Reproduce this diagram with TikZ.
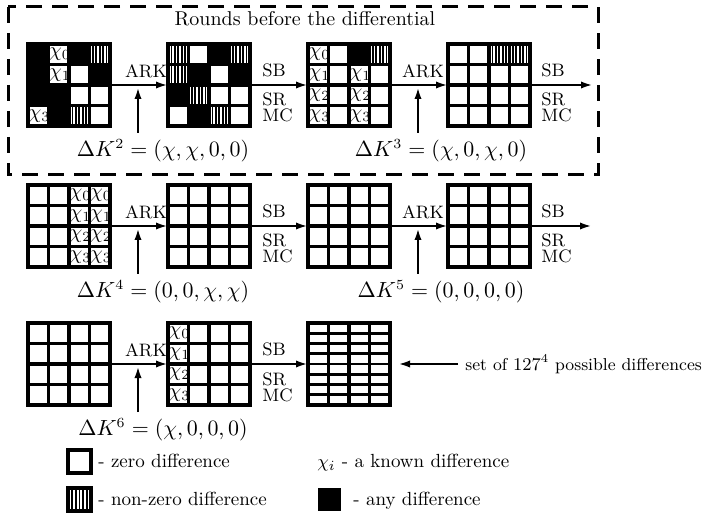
\documentclass[tikz,border=0pt]{standalone}
\usetikzlibrary{arrows.meta,calc}
\newcommand\blk[3]{\fill ($(#1.north west)+(20.5*#3,20.5*#2)$) rectangle ++(20.5,20.5);}
\newcommand\stp[3]{\foreach \i in {1,...,5}{\draw[line width=0.85pt] ($(#1.north west)+(20.5*#3+3.42*\i,20.5*#2)$) -- ++(0,20.5);}}
\newcommand\chic[4]{\begin{scope}\clip ($(#1.north west)+(20.5*#3,20.5*#2)$) rectangle ++(20.5,20.5);
\node[anchor=west,inner sep=0pt] (#1c#2#3) at ($(#1.north west)+(20.5*#3+0.5,20.5*#2+10.5)$) {$\chi_{#4}$};\end{scope}}
\newcommand\gridlines[1]{%
  \foreach \k in {1,2,3}{%
    \draw[gl] ($(#1.north west)+(20.5*\k,0)$) -- ++(0,82);
    \draw[gl] ($(#1.north west)+(0,20.5*\k)$) -- ++(82,0);}
  \draw[gl] (#1.north west) rectangle (#1.south east);}
\begin{document}
\begin{tikzpicture}[x=0.5pt,y=-0.5pt,
  gridbox/.style={minimum width=41pt, minimum height=41pt, inner sep=0pt, outer sep=0pt},
  gl/.style={line width=1.7pt, line cap=rect},
  arr/.style={line width=1.4pt, -{Latex[length=6pt,width=3.6pt]}},
  opl/.style={font=\fontsize{9}{10}\selectfont, inner sep=0pt},
  dkl/.style={font=\fontsize{10.5}{12}\selectfont, inner sep=0pt},
  lgt/.style={font=\fontsize{9.5}{11}\selectfont, inner sep=0pt, anchor=base west},
  lsq/.style={minimum size=11.5pt, inner sep=0pt, outer sep=0pt, anchor=north west}]
\useasboundingbox (0,0) rectangle (712,518);
% dashed frame
\draw[line width=1.5pt, dash pattern=on 8pt off 5pt] (8,7) rectangle (598,175);
\node[font=\fontsize{10}{12}\selectfont] (title) at (305,19) {Rounds before the differential};
% grid nodes
\foreach \c/\x in {1/69,2/209,3/349,4/489}{
  \foreach \r/\y in {1/85,2/226,3/364}{
    \ifnum\r=3 \ifnum\c=4 \else \node[gridbox] (g\r\c) at (\x,\y) {};\fi
    \else \node[gridbox] (g\r\c) at (\x,\y) {};\fi
  }}
% grid 11
\blk{g11}{0}{0}\blk{g11}{1}{0}\blk{g11}{2}{0}
\blk{g11}{0}{2}\blk{g11}{1}{3}\blk{g11}{2}{1}\blk{g11}{3}{1}
\stp{g11}{0}{3}\stp{g11}{3}{2}
\chic{g11}{0}{1}{0}\chic{g11}{1}{1}{1}\chic{g11}{3}{0}{3}
% grid 12
\stp{g12}{0}{0}\stp{g12}{1}{0}\stp{g12}{0}{3}\stp{g12}{2}{1}\stp{g12}{3}{2}
\blk{g12}{0}{2}\blk{g12}{1}{1}\blk{g12}{1}{3}\blk{g12}{2}{0}\blk{g12}{3}{1}
% grid 13
\blk{g13}{0}{2}\stp{g13}{0}{3}
\chic{g13}{0}{0}{0}\chic{g13}{1}{0}{1}\chic{g13}{2}{0}{2}\chic{g13}{3}{0}{3}
\chic{g13}{1}{2}{1}\chic{g13}{2}{2}{2}\chic{g13}{3}{2}{3}
% grid 14
\stp{g14}{0}{2}\stp{g14}{0}{3}
% grid 21
\chic{g21}{0}{2}{0}\chic{g21}{1}{2}{1}\chic{g21}{2}{2}{2}\chic{g21}{3}{2}{3}
\chic{g21}{0}{3}{0}\chic{g21}{1}{3}{1}\chic{g21}{2}{3}{2}\chic{g21}{3}{3}{3}
% grid 32
\chic{g32}{0}{0}{0}\chic{g32}{1}{0}{1}\chic{g32}{2}{0}{2}\chic{g32}{3}{0}{3}
% grid lines
\foreach \g in {g11,g12,g13,g14,g21,g22,g23,g24,g31,g32}{\gridlines{\g}}
% grid 33: set of differences
\foreach \k in {1,2,3}{\draw[gl] ($(g33.north west)+(20.5*\k,0)$) -- ++(0,82);}
\foreach \k in {1,...,7}{\draw[line width=1.3pt] ($(g33.north west)+(0,10.25*\k)$) -- ++(82,0);}
\draw[gl] (g33.north west) rectangle (g33.south east);
% row arrows
\coordinate (e1) at (593,85);
\coordinate (e2) at (592,226);
\draw[arr] (g11.east) -- (g12.west);
\draw[arr] (g12.east) -- (g13.west);
\draw[arr] (g13.east) -- (g14.west);
\draw[arr] (g14.east) -- (e1);
\draw[arr] (g21.east) -- (g22.west);
\draw[arr] (g22.east) -- (g23.west);
\draw[arr] (g23.east) -- (g24.west);
\draw[arr] (g24.east) -- (e2);
\draw[arr] (g31.east) -- (g32.west);
\draw[arr] (g32.east) -- (g33.west);
% operation labels
\foreach \r/\y in {1/85,2/226}{
  \node[opl, anchor=base] (arka\r) at (146,\y-7) {ARK};
  \node[opl, anchor=base] (arkb\r) at (423,\y-7) {ARK};
  \node[opl, anchor=base west] (sba\r) at (262,\y-8) {SB};
  \node[opl, anchor=base west] (sra\r) at (262,\y+21) {SR};
  \node[opl, anchor=base west] (mca\r) at (262,\y+37) {MC};
  \node[opl, anchor=base west] (sbb\r) at (541,\y-8) {SB};
  \node[opl, anchor=base west] (srb\r) at (541,\y+21) {SR};
  \node[opl, anchor=base west] (mcb\r) at (541,\y+37) {MC};
}
\node[opl, anchor=base] (arka3) at (146,357) {ARK};
\node[opl, anchor=base west] (sba3) at (262,356) {SB};
\node[opl, anchor=base west] (sra3) at (262,385) {SR};
\node[opl, anchor=base west] (mca3) at (262,401) {MC};
% key differences
\node[dkl] (dk2) at (163,151) {$\Delta K^2=(\chi,\chi,0,0)$};
\node[dkl] (dk3) at (441,151) {$\Delta K^3=(\chi,0,\chi,0)$};
\node[dkl] (dk4) at (163,292) {$\Delta K^4=(0,0,\chi,\chi)$};
\node[dkl] (dk5) at (441,292) {$\Delta K^5=(0,0,0,0)$};
\node[dkl] (dk6) at (163,430) {$\Delta K^6=(\chi,0,0,0)$};
\foreach \n/\x/\y in {2/138/85,3/418/85,4/138/226,5/418/226,6/138/364}{
  \coordinate (kb\n) at (\x,\y+48);
  \coordinate (kt\n) at (\x,\y+2);
  \draw[arr] (kb\n) -- (kt\n);
}
% set of differences
\coordinate (s0) at (458,364);
\draw[arr, shorten >=4pt] (s0) -- (g33.east);
\node[anchor=west, inner sep=0pt, font=\fontsize{8.6}{10}\selectfont] (setof) at (465,364) {set of $127^4$ possible differences};
% legend
\node[lsq, draw, line width=1.6pt] (lzero) at (68,450) {};
\node[lgt] (tzero) at (98,467) {- zero difference};
\node[lgt] (tchi) at (317,467) {$\chi_i$ - a known difference};
\node[lsq] (lnz) at (68,488) {};
\foreach \i in {1,...,5}{\draw[line width=0.9pt] ($(lnz.north west)+(3.83*\i,0)$) -- ++(0,23);}
\draw[gl] (lnz.north west) rectangle (lnz.south east);
\node[lgt] (tnz) at (98,505) {- non-zero difference};
\node[lsq, fill=black] (lany) at (318,488) {};
\node[lgt] (tany) at (353,505) {- any difference};
\end{tikzpicture}
\end{document}
